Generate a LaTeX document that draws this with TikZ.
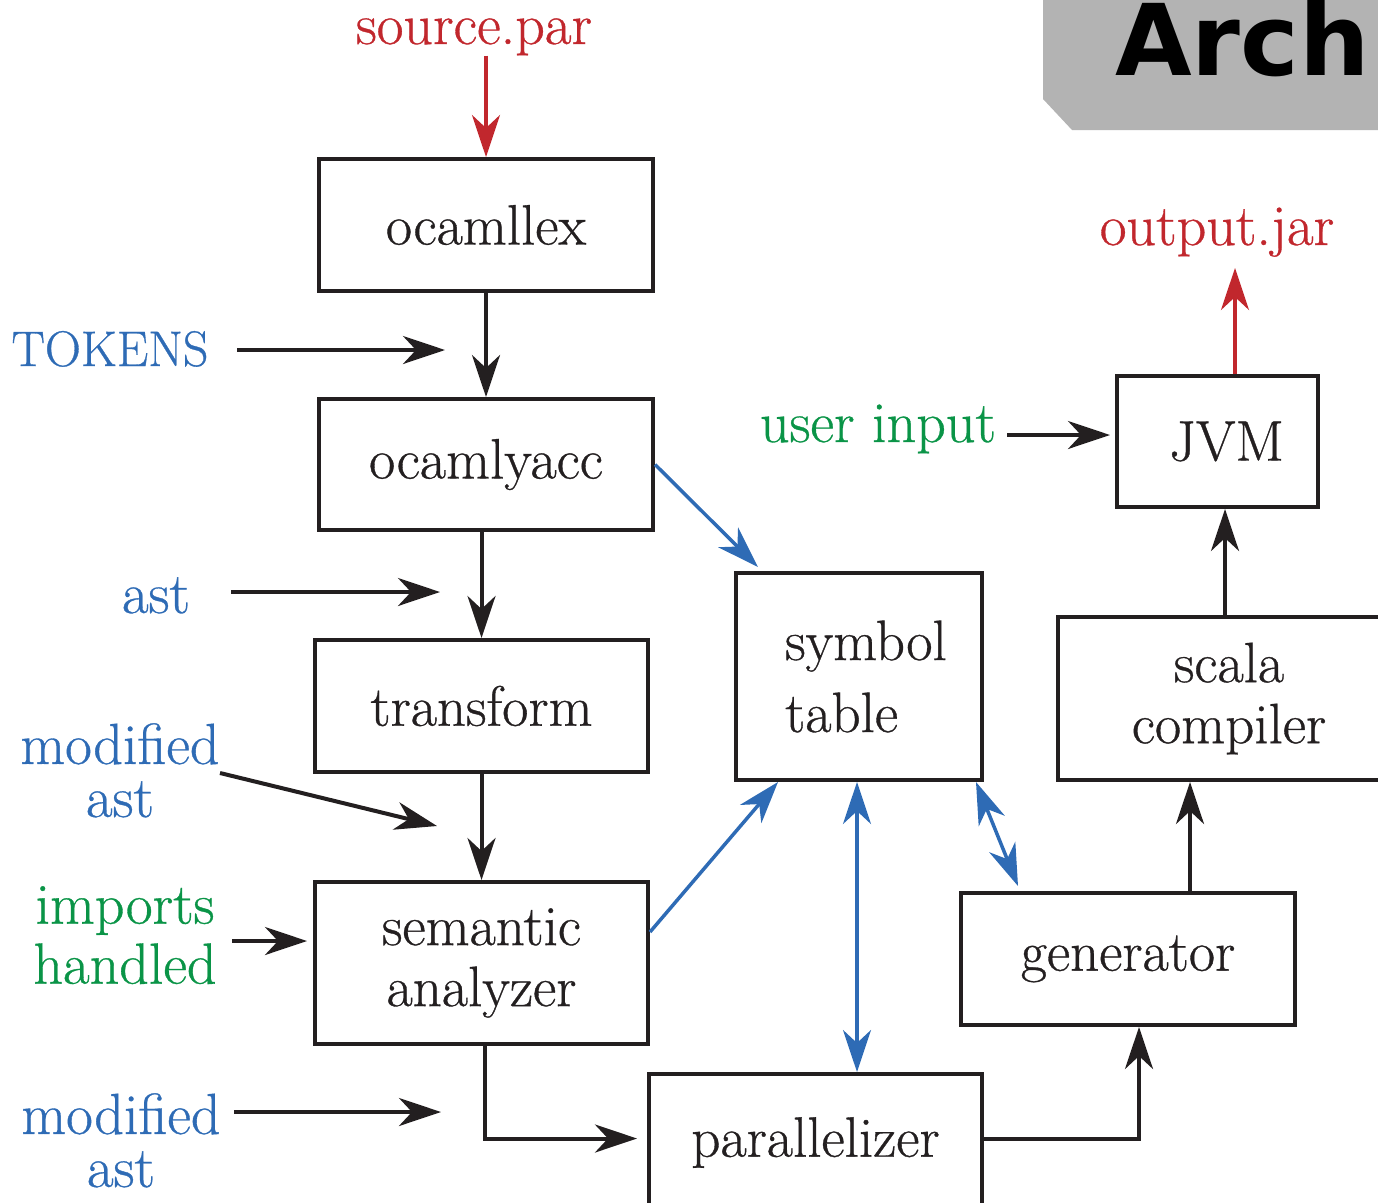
\documentclass[tikz,border=0pt]{standalone}
\usepackage{fontspec}
\setmainfont{Latin Modern Roman}[FakeBold=0.6]
\usetikzlibrary{arrows.meta,calc}
\newfontfamily\archfam{DejaVu Sans}
\definecolor{ink}{HTML}{231F20}
\definecolor{pred}{HTML}{C1272D}
\definecolor{pblue}{HTML}{2E6BB5}
\definecolor{pgreen}{HTML}{0A9447}
\definecolor{banner}{HTML}{B3B3B3}
\begin{document}
\begin{tikzpicture}[x=1pt,y=-1pt,
  box/.style={draw=ink, line width=4pt, align=center, inner sep=0pt, text=ink, font=\fontsize{57}{61}\selectfont},
  lbl/.style={inner sep=0pt, align=center, font=\fontsize{58}{53}\selectfont},
  tip/.style={-{Stealth[length=42pt,width=28pt,inset=13pt]}},
  arr/.style={draw=ink, line width=4pt, tip},
  barr/.style={draw=pblue, line width=3.5pt, tip},
  bbarr/.style={draw=pblue, line width=3.5pt, {Stealth[length=42pt,width=28pt,inset=13pt]}-{Stealth[length=42pt,width=28pt,inset=13pt]}},
  rarr/.style={draw=pred, line width=3.5pt, tip},
]
\useasboundingbox (0,0) rectangle (1378,1202);
\clip (0,0) rectangle (1378,1202);

% banner
\fill[banner] (1043,-5) -- (1043,99) -- (1072,130) -- (1390,130) -- (1390,-5) -- cycle;
\node[anchor=base west, inner sep=0pt, text=black, font=\archfam\bfseries\fontsize{99}{99}\selectfont] (arch) at (1115,75) {Arch};

% boxes
\node[box, minimum width=334pt, minimum height=132pt] (lex) at (486,225) {ocamllex};
\node[box, minimum width=334pt, minimum height=131pt] (yacc) at (486,464.5) {ocamlyacc};
\node[box, minimum width=333pt, minimum height=132pt] (trans) at (481.5,706) {transform};
\node[box, minimum width=333pt, minimum height=162pt] (sem) at (481.5,963) {semantic\\analyzer};
\node[box, minimum width=333pt, minimum height=137pt] (par) at (815.5,1142.5) {parallelizer};
\node[box, align=left, minimum width=246pt, minimum height=207pt, font=\fontsize{57}{72}\selectfont] (sym) at (859,676.5) {\hspace*{14pt}symbol\\\hspace*{14pt}table};
\node[box, minimum width=334pt, minimum height=132pt] (gen) at (1128,959) {generator};
\node[box, minimum width=342pt, minimum height=163pt] (scala) at (1229,698.5) {scala\\compiler};
\node[box, minimum width=201pt, minimum height=131pt] (jvm) at (1217.5,441.5) {\hspace*{18pt}JVM};

% labels
\node[lbl, anchor=base, text=pred] (src) at (474,44) {source.par};
\node[lbl, anchor=base, text=pred] (out) at (1217,245) {output.jar};
\node[lbl, anchor=base, text=pblue, font=\fontsize{50}{53}\selectfont] (tok) at (110,366) {TOKENS};
\node[lbl, anchor=base, text=pblue] (astl) at (156,613) {ast};
\node[lbl, anchor=north, text=pblue] (modA) at (120,723) {modified\\ast};
\node[lbl, anchor=north, text=pgreen, font=\fontsize{58}{60}\selectfont] (imp) at (125,886) {imports\\handled};
\node[lbl, anchor=north, text=pblue] (modB) at (121,1093) {modified\\ast};
\node[lbl, anchor=base, text=pgreen] (user) at (878,442) {user input};

% free-end coordinates
\coordinate (tokS) at (237,350);  \coordinate (tokE) at (445,350);
\coordinate (astS) at (231,592);  \coordinate (astE) at (440,592);
\coordinate (modAS) at (220,773); \coordinate (modAE) at (437,826);
\coordinate (impS) at (232,941);  \coordinate (impE) at (307,941);
\coordinate (modBS) at (234,1112); \coordinate (modBE) at (441,1112);
\coordinate (userS) at (1007,435); \coordinate (userE) at (1110,435);
\coordinate (outE) at (1235,268);

% main flow
\draw[rarr] (lex.north |- src.south) -- (lex.north);
\draw[arr] (lex.south) -- (yacc.north);
\draw[arr] (trans.north |- yacc.south) -- (trans.north);
\draw[arr] (trans.south) -- (sem.north);
\draw[arr] ([xshift=3pt]sem.south) |- ([xshift=-10pt,yshift=4pt]par.west);
\draw[arr] ([yshift=4pt]par.east) -| ([xshift=11pt]gen.south);
\draw[arr] ([xshift=62pt]gen.north) -- ([xshift=62pt]gen.north |- scala.south);
\draw[arr] ([xshift=-4pt]scala.north) -- ([xshift=-4pt]scala.north |- jvm.south);
\draw[rarr] ([xshift=17.5pt]jvm.north) -- (outE);

% label arrows
\draw[arr] (tokS) -- (tokE);
\draw[arr] (astS) -- (astE);
\draw[arr] (modAS) -- (modAE);
\draw[arr] (impS) -- (impE);
\draw[arr] (modBS) -- (modBE);
\draw[arr] (userS) -- (userE);

% symbol table links
\draw[barr] (yacc.east) -- ([xshift=24pt,yshift=4pt]sym.north west);
\draw[barr] ([yshift=31pt]sem.east) -- ([xshift=44pt]sym.south west);
\draw[bbarr] ([xshift=-2pt]sym.south) -- ([xshift=-2pt]sym.south |- par.north);
\draw[bbarr] ([xshift=-8pt]sym.south east) -- ([xshift=59pt,yshift=5pt]gen.north west);
\end{tikzpicture}
\end{document}
